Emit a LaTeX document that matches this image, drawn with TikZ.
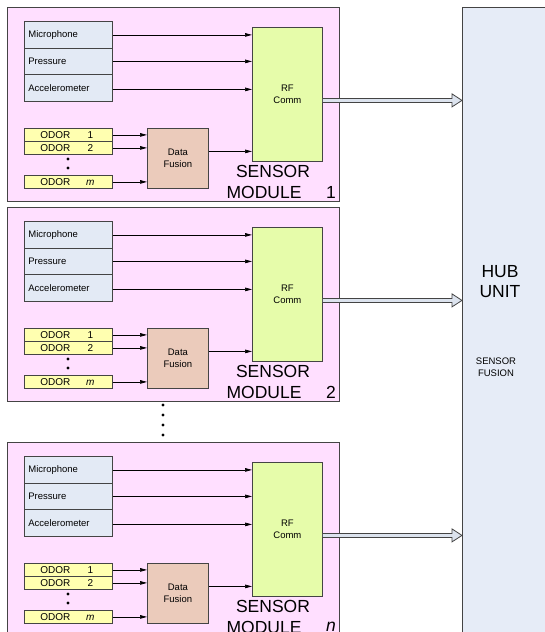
\documentclass[tikz,border=0pt]{standalone}
\usepackage{fontspec}
\setmainfont{Liberation Sans}
\usetikzlibrary{arrows.meta,calc}
\definecolor{modfill}{HTML}{FFDFFF}
\definecolor{sensfill}{HTML}{E3EAF5}
\definecolor{odorfill}{HTML}{FFFFB0}
\definecolor{dffill}{HTML}{EBCBBB}
\definecolor{rffill}{HTML}{E6FCAA}
\definecolor{hubfill}{HTML}{E6ECF7}
\definecolor{fatfill}{HTML}{DCE3EE}
\definecolor{edge}{HTML}{444444}
\begin{document}
\begin{tikzpicture}[x=1pt,y=-1pt,
  smtxt/.style={font=\fontsize{9.5}{12.5}\selectfont},
  bigtxt/.style={font=\fontsize{17.5}{20}\selectfont, inner sep=0pt},
  modbox/.style={draw=edge, line width=0.9pt, fill=modfill, minimum width=332pt, minimum height=194pt, anchor=north west, inner sep=0pt},
  sens/.style={draw=edge, line width=0.8pt, fill=sensfill, text width=80pt, align=left, inner xsep=4pt, inner ysep=0pt, anchor=north west, smtxt},
  odor/.style={draw=edge, line width=0.8pt, fill=odorfill, minimum width=88pt, minimum height=13pt, inner sep=0pt, anchor=north west, font=\fontsize{10}{10}\selectfont},
  rfbox/.style={draw=edge, line width=0.8pt, fill=rffill, minimum width=70pt, minimum height=134pt, inner sep=0pt, anchor=north west, align=center, smtxt},
  dfbox/.style={draw=edge, line width=0.8pt, fill=dffill, minimum width=61pt, minimum height=60pt, inner sep=0pt, anchor=north west, align=center, smtxt},
  hubbox/.style={draw=edge, line width=1.3pt, fill=hubfill, minimum width=120pt, minimum height=680pt, anchor=north west, inner sep=0pt},
  sig/.style={draw=black, line width=0.7pt, -{Triangle[length=7pt,width=3.6pt]}},
  fat/.style={draw=edge, line width=0.8pt, fill=fatfill, line join=miter},
  dot/.style={fill=black}
]
\useasboundingbox (0,0) rectangle (545,632);
\clip (0,0) rectangle (545,632);

% hub unit
\node[hubbox] (hub) at (462,7) {};
\node[bigtxt, align=center] (hubt) at (500,282) {HUB\\UNIT};
\node[smtxt, align=center, inner sep=0pt] (hubf) at (496,367) {SENSOR\\FUSION};

\foreach \dy/\k/\lab in {0/1/1,200/2/2,435/3/\textit{n}} {
  \node[modbox] (mod\k) at (7,7+\dy) {};
  \node[sens, minimum height=27pt] (mic\k) at (24,21+\dy) {Microphone};
  \node[sens, minimum height=26pt] (pre\k) at (24,48+\dy) {Pressure};
  \node[sens, minimum height=27pt] (acc\k) at (24,74+\dy) {Accelerometer};
  \node[rfbox] (rf\k) at (252,27+\dy) {RF\\Comm};
  \node[odor] (oa\k) at (24,128+\dy) {\hbox to 88pt{\hspace{16pt}ODOR\hfill\makebox[8pt]{1}\hspace{18pt}}};
  \node[odor] (ob\k) at (24,141+\dy) {\hbox to 88pt{\hspace{16pt}ODOR\hfill\makebox[8pt]{2}\hspace{18pt}}};
  \node[odor] (om\k) at (24,175+\dy) {\hbox to 88pt{\hspace{16pt}ODOR\hfill\makebox[8pt]{\textit{m}}\hspace{18pt}}};
  \fill[dot] (68,159+\dy) circle (1.7);
  \fill[dot] (68,168+\dy) circle (1.7);
  \node[dfbox] (df\k) at (147,128+\dy) {Data\\Fusion};
  % signal arrows
  \draw[sig] (mic\k.east) -- (mic\k.east -| rf\k.west);
  \draw[sig] (pre\k.east) -- (pre\k.east -| rf\k.west);
  \draw[sig] ($(acc\k.east)+(0,1.5)$) -- ($(acc\k.east -| rf\k.west)+(0,1.5)$);
  \draw[sig] (oa\k.east) -- (oa\k.east -| df\k.west);
  \draw[sig] (ob\k.east) -- (ob\k.east -| df\k.west);
  \draw[sig] (om\k.east) -- (om\k.east -| df\k.west);
  \draw[sig] ($(df\k.east)+(0,-7)$) -- ($(df\k.east -| rf\k.west)+(0,-7)$);
  % labels
  \node[bigtxt] (ms\k) at (273,171+\dy) {SENSOR};
  \node[bigtxt] (mm\k) at (264,192+\dy) {MODULE};
  \node[bigtxt] (mn\k) at (331,192+\dy) {\lab};
  % fat arrow to hub
  \coordinate (s\k) at ($(rf\k.east)+(0,6)$);
  \coordinate (t\k) at (s\k -| hub.west);
  \draw[fat] ($(s\k)+(0,-2)$) -- ($(t\k)+(-10,-2)$) -- ($(t\k)+(-10,-6.5)$) -- (t\k)
     -- ($(t\k)+(-10,6.5)$) -- ($(t\k)+(-10,2)$) -- ($(s\k)+(0,2)$);
}

% dots between modules
\foreach \y in {405,415,425,435} \fill[dot] (163,\y) circle (1.7);
\end{tikzpicture}
\end{document}
